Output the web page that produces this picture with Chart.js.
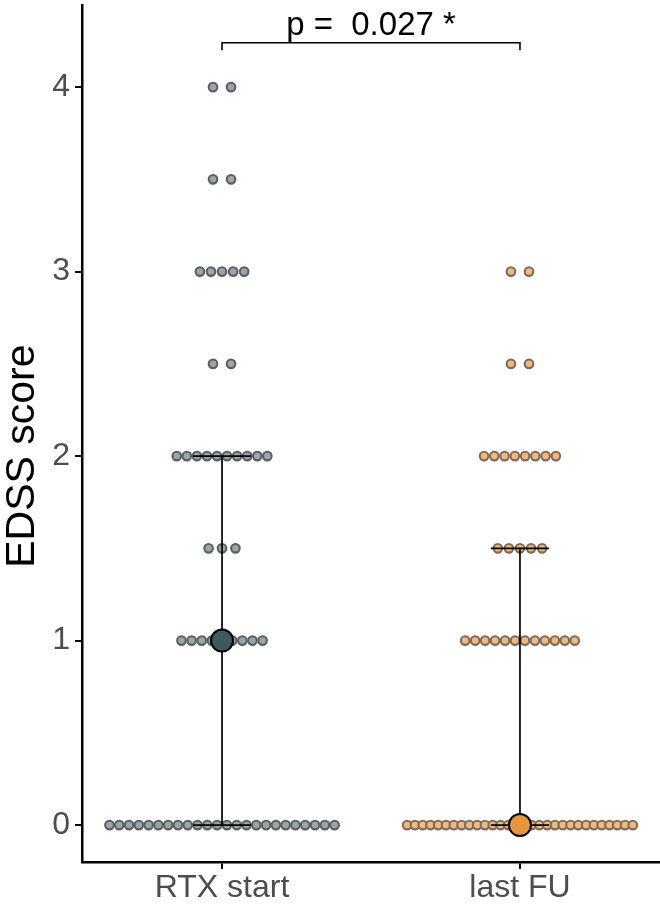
<!DOCTYPE html>
<html>
<head>
<meta charset="utf-8">
<script src="https://cdn.jsdelivr.net/npm/chart.js@4.4.0/dist/chart.umd.min.js"></script>
<style>
  html, body { margin: 0; padding: 0; background: #ffffff; }
  #wrap { width: 660px; height: 912px; }
</style>
</head>
<body>
<div id="wrap"><canvas id="c" width="660" height="912"></canvas></div>
<script>
// ---- data ----
const categories = ["RTX start", "last FU"];
const edssLevels = [0, 1, 1.5, 2, 2.5, 3, 3.5, 4];
const rtxCounts  = [24, 9, 3, 10, 2, 5, 2, 2];
const fuCounts   = [30, 12, 5, 8, 2, 2, 0, 0];
const medians    = [1, 0];
const q1Values   = [0, 0];
const q3Values   = [2, 1.5];
const yTicks     = [0, 1, 2, 3, 4];
const pLabel     = "p =  0.027 *";
const yTitle     = "EDSS score";

// ---- layout helpers (dot packing around category centre) ----
const pxPerUnit = 297;          // horizontal pixels per category unit
function rowSpacingPx(n) {
  let s = 9.7 + 8.3 * Math.pow(2 / n, 2);
  if (n > 1 && (n - 1) * s > 225) s = 225 / (n - 1);
  return s;
}
function dotsFor(catIndex, counts) {
  const pts = [];
  const cx = catIndex + 1;
  edssLevels.forEach((lvl, i) => {
    const n = counts[i];
    if (!n) return;
    const s = rowSpacingPx(n) / pxPerUnit;
    for (let k = 0; k < n; k++) {
      pts.push({ x: cx + (k - (n - 1) / 2) * s, y: lvl });
    }
  });
  return pts;
}
const capHalf = 29 / pxPerUnit;

function errorbarSets(catIndex) {
  const cx = catIndex + 1;
  const base = { type: 'line', borderColor: '#000', borderWidth: 1.7, pointRadius: 0,
                 fill: false, showLine: true, order: 2, clip: false };
  return [
    Object.assign({}, base, { data: [{x: cx, y: q1Values[catIndex]}, {x: cx, y: q3Values[catIndex]}] }),
    Object.assign({}, base, { data: [{x: cx - capHalf, y: q1Values[catIndex]}, {x: cx + capHalf, y: q1Values[catIndex]}] }),
    Object.assign({}, base, { data: [{x: cx - capHalf, y: q3Values[catIndex]}, {x: cx + capHalf, y: q3Values[catIndex]}] })
  ];
}

const bracketY = 4.24, bracketLeg = 4.2;
const FONT = '"Liberation Sans", Arial, sans-serif';

const textPlugin = {
  id: 'texts',
  afterDatasetsDraw(chart) {
    const {ctx, scales} = chart;
    ctx.save();
    ctx.fillStyle = '#000';
    // significance label above bracket
    ctx.font = '33px ' + FONT;
    ctx.textAlign = 'center';
    ctx.textBaseline = 'alphabetic';
    ctx.fillText(pLabel, scales.x.getPixelForValue(1.5), scales.y.getPixelForValue(bracketY) - 8);
    // y axis title
    ctx.translate(23, scales.y.getPixelForValue(2.0));
    ctx.rotate(-Math.PI / 2);
    ctx.font = '41px ' + FONT;
    ctx.textBaseline = 'middle';
    ctx.fillText(yTitle, 0, 0);
    ctx.restore();
  }
};

const datasets = [
  { type: 'scatter', data: dotsFor(0, rtxCounts), pointRadius: 4.3, pointHoverRadius: 4.3,
    backgroundColor: '#9aa6a9', borderColor: '#5a6062', borderWidth: 2.1, order: 3 },
  { type: 'scatter', data: dotsFor(1, fuCounts), pointRadius: 4.3, pointHoverRadius: 4.3,
    backgroundColor: '#f3b87a', borderColor: '#7c6c5d', borderWidth: 2.1, order: 3 },
  ...errorbarSets(0),
  ...errorbarSets(1),
  { type: 'scatter', data: [{x: 1, y: medians[0]}], pointRadius: 11, pointHoverRadius: 11,
    backgroundColor: '#3e5860', borderColor: '#000', borderWidth: 2, order: 1, clip: false },
  { type: 'scatter', data: [{x: 2, y: medians[1]}], pointRadius: 11, pointHoverRadius: 11,
    backgroundColor: '#e8953f', borderColor: '#000', borderWidth: 2, order: 1, clip: false },
  { type: 'line', data: [{x: 1, y: bracketLeg}, {x: 1, y: bracketY}, {x: 2, y: bracketY}, {x: 2, y: bracketLeg}],
    borderColor: '#000', borderWidth: 1.6, pointRadius: 0, fill: false, order: 2, clip: false }
];

new Chart(document.getElementById('c'), {
  data: { datasets },
  options: {
    responsive: false,
    animation: false,
    devicePixelRatio: 1,
    layout: { autoPadding: false, padding: { top: 5, right: 0, left: 0, bottom: 0 } },
    plugins: { legend: { display: false }, tooltip: { enabled: false } },
    scales: {
      x: {
        type: 'linear', min: 0.53, max: 2.47,
        afterBuildTicks(scale) { scale.ticks = categories.map((c, i) => ({ value: i + 1 })); },
        afterFit(scale) { scale.height = 50; scale.paddingLeft = 0; scale.paddingRight = 0; },
        ticks: {
          callback: (v) => categories[Math.round(v) - 1] || '',
          color: '#4d4d4d', font: { family: FONT, size: 32 },
          padding: 0, maxRotation: 0, autoSkip: false
        },
        grid: { display: true, drawOnChartArea: false, drawTicks: true, tickLength: 7, color: '#000', lineWidth: 2 },
        border: { display: true, color: '#000', width: 2.5 }
      },
      y: {
        type: 'linear', min: -0.2, max: 4.445,
        afterBuildTicks(scale) { scale.ticks = yTicks.map(v => ({ value: v })); },
        afterFit(scale) { scale.width = 82; scale.paddingTop = 0; scale.paddingBottom = 0; },
        ticks: {
          color: '#4d4d4d', font: { family: FONT, size: 32 },
          padding: 5
        },
        title: { display: false },
        grid: { display: true, drawOnChartArea: false, drawTicks: true, tickLength: 7, color: '#000', lineWidth: 2 },
        border: { display: true, color: '#000', width: 2.5 }
      }
    }
  },
  plugins: [textPlugin]
});
</script>
</body>
</html>
